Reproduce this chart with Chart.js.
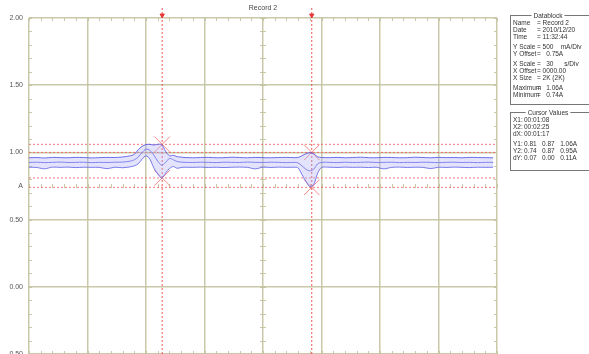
<!DOCTYPE html>
<html><head><meta charset="utf-8">
<script src="https://cdn.jsdelivr.net/npm/chart.js@4"></script>
<style>html,body{margin:0;padding:0;background:#fff;overflow:hidden}#wrap{width:589px;height:354px;position:relative;overflow:hidden}</style>
</head><body><div id="wrap"><canvas id="c" width="589" height="366"></canvas></div>
<script>
// ---- data (time in s, current in A) ----
const times = [0,4,8,12,16,20,24,28,32,36,40,44,48,52,
  54,56,58,60,62,64,66,68,70,72,74,76,78,80,
  84,88,92,96,100,104,108,112,116,120,124,128,132,136,
  138,140,142,144,146,148,150,
  154,158,162,166,170,174,178,182,186,190,194,198,202,206,210,214,218,222,226,230,234,238];
const seriesMax = [0.960,0.962,0.958,0.963,0.961,0.960,0.963,0.962,0.959,0.961,0.963,0.962,0.966,0.975,
  0.985,1.020,1.045,1.058,1.060,1.055,1.060,1.058,1.010,0.975,0.978,0.968,0.965,0.962,
  0.960,0.962,0.963,0.960,0.961,0.964,0.962,0.960,0.963,0.961,0.960,0.962,0.963,0.961,
  0.962,0.975,0.990,0.998,0.990,0.968,0.962,
  0.961,0.963,0.960,0.962,0.964,0.961,0.960,0.963,0.962,0.960,0.961,0.964,0.962,0.960,0.963,0.961,0.962,0.960,0.963,0.962,0.961,0.960];
const seriesAvg = [0.925,0.927,0.924,0.926,0.928,0.925,0.926,0.927,0.924,0.926,0.925,0.927,0.928,0.935,
  0.945,0.965,1.000,1.025,1.015,0.980,0.935,0.905,0.925,0.955,0.945,0.932,0.928,0.926,
  0.925,0.927,0.926,0.924,0.927,0.926,0.925,0.928,0.926,0.925,0.927,0.926,0.924,0.926,
  0.922,0.900,0.875,0.862,0.875,0.915,0.926,
  0.926,0.924,0.927,0.925,0.926,0.928,0.925,0.926,0.927,0.924,0.926,0.925,0.927,0.926,0.924,0.926,0.927,0.925,0.926,0.924,0.926,0.925];
const seriesMin = [0.890,0.888,0.878,0.891,0.889,0.891,0.887,0.890,0.889,0.889,0.879,0.890,0.886,0.893,
  0.900,0.915,0.950,0.975,0.950,0.885,0.840,0.810,0.845,0.880,0.895,0.882,0.888,0.890,
  0.889,0.891,0.888,0.890,0.887,0.890,0.891,0.889,0.878,0.890,0.888,0.891,0.889,0.890,
  0.885,0.835,0.785,0.745,0.760,0.845,0.888,
  0.890,0.888,0.891,0.889,0.890,0.887,0.890,0.878,0.889,0.891,0.888,0.890,0.889,0.880,0.890,0.888,0.891,0.889,0.887,0.890,0.889,0.890];
const cursorX = [68.3, 145.0];
const cursorLevels = [1.06, 1.00, 0.81, 0.74];
const crossT = [68.3, 68.3, 145.0, 145.0];
const crossV = [1.06, 0.81, 1.00, 0.74];
const yTickValues = [2.0, 1.5, 1.0, 0.75, 0.5, 0.0, -0.5];
const yTickLabels = ["2.00", "1.50", "1.00", "A", "0.50", "0.00", "-0.50"];
const xTickValues = [0, 30, 60, 90, 120, 150, 180, 210, 240];
const chartTitle = "Record 2";
const datablockTitle = "Datablock";
const datablockRows = [["Name", "= Record 2"], ["Date", "= 2010/12/20"], ["Time", "= 11:32:44"], null,
  ["Y Scale", "= 500    mA/Div"], ["Y Offset", "=   0.75A"], null,
  ["X Scale", "=   30      s/Div"], ["X Offset", "= 0000.00"], ["X Size", "= 2K (2K)"], null,
  ["Maximum", "=   1.06A"], ["Minimum", "=   0.74A"]];
const cursorTitle = "Cursor Values";
const cursorRows = [["X1:", "00:01:08"], ["X2:", "00:02:25"], ["dX:", "00:01:17"], null,
  ["Y1:", "0.81   0.87   1.06A"], ["Y2:", "0.74   0.87   0.95A"], ["dY:", "0.07   0.00   0.11A"]];

// ---- build ----
const pts = arr => times.map((t, i) => ({x: t, y: arr[i]}));
const gridCol = 'rgba(195,195,160,0.9)';
const traceCol = 'rgba(85,85,230,0.85)';
const levelCol = 'rgba(240,95,95,0.8)';
const datasets = [
  {data: pts(seriesMax), borderColor: traceCol, borderWidth: 1, pointRadius: 0, tension: 0.3, fill: '+2', backgroundColor: 'rgba(175,175,245,0.35)'},
  {data: pts(seriesAvg), borderColor: traceCol, borderWidth: 1, pointRadius: 0, tension: 0.3, fill: false},
  {data: pts(seriesMin), borderColor: traceCol, borderWidth: 1, pointRadius: 0, tension: 0.3, fill: false}
];
cursorLevels.forEach(v => datasets.push({data: [{x: xTickValues[0], y: v}, {x: xTickValues[xTickValues.length-1], y: v}],
  borderColor: levelCol, borderWidth: 1, borderDash: [2, 2], pointRadius: 0, fill: false}));
cursorX.forEach(c => datasets.push({data: [{x: c, y: -0.5}, {x: c, y: 2.09}], clip: false,
  borderColor: 'rgba(235,55,55,0.85)', borderWidth: 1, borderDash: [2, 2], pointRadius: 0, fill: false}));
datasets.push({data: crossT.map((t, i) => ({x: t, y: crossV[i]})), showLine: false, pointStyle: 'crossRot',
  pointRadius: 11, borderColor: 'rgba(240,110,110,0.8)', borderWidth: 1, clip: false});
datasets.push({data: cursorX.map(c => ({x: c, y: 2.02})), showLine: false, pointStyle: 'triangle', rotation: 180,
  pointRadius: 2.5, backgroundColor: 'rgba(230,40,40,0.9)', borderColor: 'rgba(230,40,40,0.9)', clip: false});

const minorTicks = {
  id: 'minorTicks',
  beforeDatasetsDraw(chart) {
    const {ctx, scales: {x, y}} = chart;
    ctx.save();
    ctx.strokeStyle = gridCol; ctx.lineWidth = 1;
    const x0 = x.getPixelForValue(xTickValues[0]), x1 = x.getPixelForValue(xTickValues[xTickValues.length-1]);
    const yTop = y.getPixelForValue(2.0), yBot = y.getPixelForValue(-0.5);
    const xc = x.getPixelForValue(120), yc = y.getPixelForValue(0.75);
    ctx.beginPath();
    for (let t = 0; t <= 240; t += 6) {
      const px = Math.round(x.getPixelForValue(t)) + 0.5;
      ctx.moveTo(px, yTop); ctx.lineTo(px, yTop + 3);
      ctx.moveTo(px, yBot); ctx.lineTo(px, yBot - 3);
      ctx.moveTo(px, yc - 2); ctx.lineTo(px, yc + 2);
    }
    for (let v = -0.5; v <= 2.0001; v += 0.1) {
      const py = Math.round(y.getPixelForValue(v)) + 0.5;
      ctx.moveTo(x0, py); ctx.lineTo(x0 + 3, py);
      ctx.moveTo(x1, py); ctx.lineTo(x1 - 3, py);
      ctx.moveTo(xc - 3, py); ctx.lineTo(xc + 3, py);
    }
    ctx.stroke();
    ctx.restore();
  },
  afterDraw(chart) {
    const {ctx, scales: {x}} = chart;
    ctx.save();
    ctx.fillStyle = '#444';
    ctx.font = '7px "Liberation Sans", Arial, sans-serif';
    ctx.textAlign = 'center'; ctx.textBaseline = 'middle';
    ctx.fillText(chartTitle, x.getPixelForValue(120), 8);
    const drawBox = (top, bottom, title, rows, gap, colX) => {
      const left = 510, right = 600;
      ctx.strokeStyle = '#777'; ctx.lineWidth = 1;
      ctx.strokeRect(left + 0.5, top + 0.5, right - left, bottom - top);
      ctx.font = '6.5px "Liberation Sans", Arial, sans-serif';
      const tw = ctx.measureText(title).width;
      ctx.fillStyle = '#fff'; ctx.fillRect(548 - tw/2 - 2, top - 3, tw + 4, 7);
      ctx.fillStyle = '#333'; ctx.textAlign = 'center';
      ctx.fillText(title, 548, top + 1);
      ctx.textAlign = 'left';
      let yy = top + 8;
      rows.forEach(r => {
        if (!r) { yy += 3; return; }
        ctx.fillText(r[0], left + 3, yy);
        ctx.fillText(r[1], left + colX, yy);
        yy += gap;
      });
    };
    drawBox(15, 104, datablockTitle, datablockRows, 7, 27);
    drawBox(112, 170, cursorTitle, cursorRows, 7, 14);
    ctx.restore();
  }
};

new Chart(document.getElementById('c'), {
  type: 'line',
  data: {datasets},
  options: {
    responsive: false, animation: false, devicePixelRatio: 1,
    layout: {padding: {left: 0, top: 18, right: 92, bottom: 0}},
    plugins: {legend: {display: false}, tooltip: {enabled: false}, title: {display: false}},
    scales: {
      x: {type: 'linear', min: 0, max: 240,
        afterBuildTicks: s => { s.ticks = xTickValues.map(v => ({value: v})); },
        afterFit: s => { s.height = 0; },
        border: {display: false},
        grid: {color: gridCol, lineWidth: 1.5, drawTicks: false},
        ticks: {display: false}},
      y: {type: 'linear', min: -0.5, max: 2.0,
        afterBuildTicks: s => { s.ticks = yTickValues.map(v => ({value: v})); },
        afterFit: s => { s.width = 29; },
        border: {display: false},
        grid: {color: c => (c.tick && c.tick.value === 0.75) ? 'rgba(0,0,0,0)' : gridCol, lineWidth: 1.5, drawTicks: false},
        ticks: {padding: 6, color: '#555', font: {size: 7, family: '"Liberation Sans", Arial, sans-serif'},
          callback: (v) => { const i = yTickValues.indexOf(v); return i >= 0 ? yTickLabels[i] : ''; }}}
    }
  },
  plugins: [minorTicks]
});
</script></body></html>
